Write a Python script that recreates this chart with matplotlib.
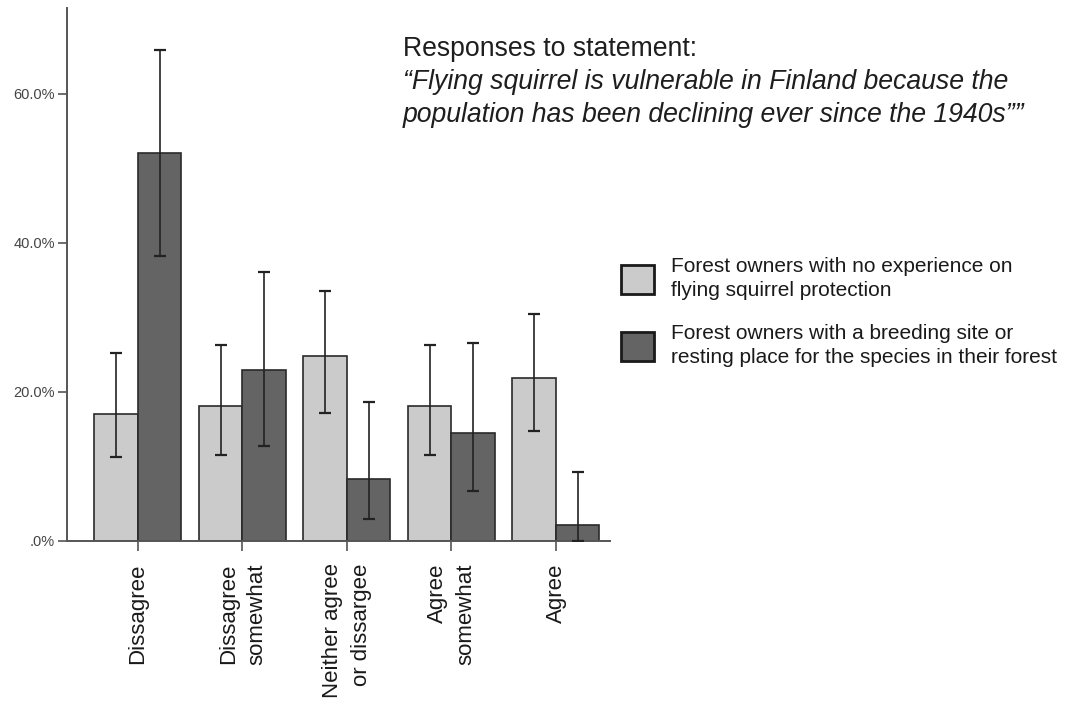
import matplotlib
matplotlib.use("Agg")
import matplotlib.pyplot as plt
from matplotlib.patches import Patch
import numpy as np

plt.rcParams['font.family'] = ['Liberation Sans', 'DejaVu Sans']

# Response categories
categories = ["Dissagree", "Dissagree\nsomewhat", "Neither agree\nor dissargee",
              "Agree\nsomewhat", "Agree"]

# Share of respondents (%) and 95% confidence limits
no_experience = [17.1, 18.1, 24.8, 18.1, 21.9]
no_experience_low = [11.3, 11.6, 17.2, 11.6, 14.8]
no_experience_high = [25.2, 26.3, 33.6, 26.3, 30.5]

with_site = [52.1, 22.9, 8.3, 14.5, 2.1]
with_site_low = [38.2, 12.8, 2.9, 6.75, 0.0]
with_site_high = [65.8, 36.1, 18.6, 26.5, 9.3]

series_names = ["Forest owners with no experience on\nflying squirrel protection",
                "Forest owners with a breeding site or\nresting place for the species in their forest"]

y_ticks = [0, 20, 40, 60]
y_tick_labels = [".0%", "20.0%", "40.0%", "60.0%"]

light = "#cbcbcb"
dark = "#646464"
edge = "#2a2a2a"

W, H = 1069, 704
fig = plt.figure(figsize=(W / 100, H / 100), dpi=100)
ax = fig.add_axes([67 / W, 1 - 541 / H, (610 - 67) / W, (541 - 8) / H])

x = np.arange(len(categories))
bw = 0.416

def err(vals, lo, hi):
    v = np.array(vals)
    return np.vstack([v - np.array(lo), np.array(hi) - v])

ax.bar(x - bw / 2, no_experience, width=bw, color=light, edgecolor=edge, linewidth=1.2, zorder=2)
ax.bar(x + bw / 2, with_site, width=bw, color=dark, edgecolor=edge, linewidth=1.2, zorder=2)
ax.errorbar(x - bw / 2, no_experience, yerr=err(no_experience, no_experience_low, no_experience_high),
            fmt="none", ecolor="#222222", elinewidth=1.2, capsize=4.5, capthick=1.6, zorder=3)
ax.errorbar(x + bw / 2, with_site, yerr=err(with_site, with_site_low, with_site_high),
            fmt="none", ecolor="#222222", elinewidth=1.2, capsize=4.5, capthick=1.6, zorder=3)

ax.set_xlim(-0.679, 4.517)
ax.set_ylim(0, 71.5)
ax.set_yticks(y_ticks)
ax.set_yticklabels(y_tick_labels, fontsize=10.5, color="#444444")
ax.set_xticks(x)
ax.set_xticklabels(categories, rotation=90, fontsize=16, color="#1a1a1a",
                   ha="center", va="top", multialignment="right")
for lbl in ax.get_xticklabels():
    lbl.set_linespacing(1.45)
ax.tick_params(axis="y", length=6.5, width=1.2, color="#555555", pad=2)
ax.tick_params(axis="x", length=7, width=1.2, color="#555555", pad=9)

for side in ("top", "right"):
    ax.spines[side].set_visible(False)
for side in ("left", "bottom"):
    ax.spines[side].set_color("#555555")
    ax.spines[side].set_linewidth(1.4)

# Statement as a header
title_size = 19.2
fig.text(403 / W, 1 - 56 / H, "Responses to statement:", fontsize=title_size,
         color="#1e1e1e", va="baseline", ha="left")
fig.text(403 / W, 1 - 89 / H, "\u201cFlying squirrel is vulnerable in Finland because the",
         fontsize=title_size, style="italic", color="#1e1e1e", va="baseline", ha="left")
fig.text(403 / W, 1 - 122 / H, "population has been declining ever since the 1940s\u201d\u201d",
         fontsize=title_size, style="italic", color="#1e1e1e", va="baseline", ha="left")

handles = [Patch(facecolor=light, edgecolor="#1a1a1a", linewidth=2),
           Patch(facecolor=dark, edgecolor="#1a1a1a", linewidth=2)]
leg = fig.legend(handles, series_names, loc="upper left",
                 bbox_to_anchor=(621 / W, 1 - 257 / H), frameon=False,
                 fontsize=15, handlelength=1.6, handleheight=1.75,
                 handletextpad=0.8, labelspacing=1.15, borderpad=0, borderaxespad=0)
for t in leg.get_texts():
    t.set_color("#1a1a1a")
    t.set_linespacing(1.35)

fig.savefig("out.png", dpi=100, facecolor="white")
